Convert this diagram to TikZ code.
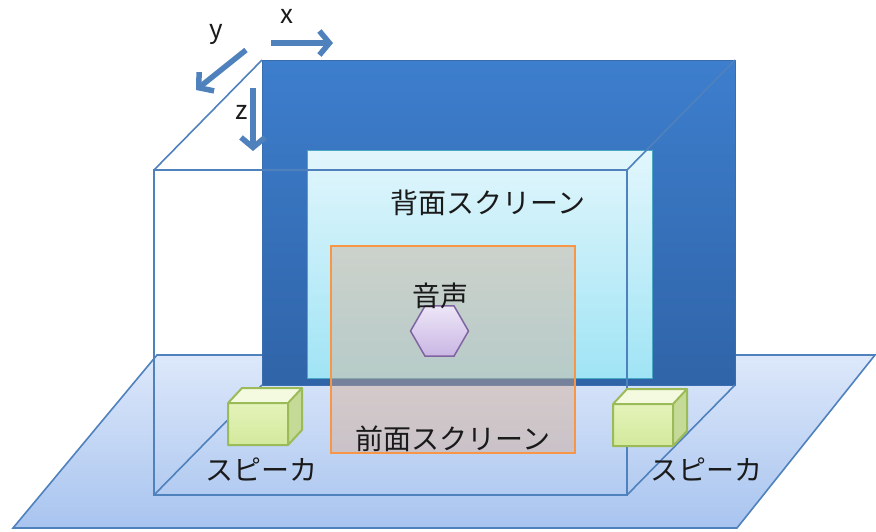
\documentclass[tikz,border=0pt]{standalone}
\usepackage{fontspec}
\setmainfont{Noto Sans CJK JP}
\usetikzlibrary{arrows.meta,shapes.geometric}

\definecolor{edgeblue}{HTML}{4F81BD}
\definecolor{floortop}{HTML}{DDE8FA}
\definecolor{floorbot}{HTML}{A8C4EF}
\definecolor{walltop}{HTML}{3D7ECD}
\definecolor{wallbot}{HTML}{3064A8}
\definecolor{walledge}{HTML}{3A6DAE}
\definecolor{cyantop}{HTML}{E2F6FC}
\definecolor{cyanbot}{HTML}{A0E4F5}
\definecolor{cyanedge}{HTML}{4BA8C4}
\definecolor{frontfill}{RGB}{215,170,140}
\definecolor{frontedge}{HTML}{F79646}
\definecolor{hextop}{HTML}{EDE6F7}
\definecolor{hexbot}{HTML}{C9B6E4}
\definecolor{hexedge}{HTML}{8064A2}
\definecolor{spkfront}{HTML}{E4F3BA}
\definecolor{spkfrontb}{HTML}{D3E99C}
\definecolor{spktop}{HTML}{F4FADF}
\definecolor{spkside}{HTML}{C6DA98}
\definecolor{spkedge}{HTML}{9BBB59}
\definecolor{textcol}{HTML}{1A1A1A}

\begin{document}
\begin{tikzpicture}[x=1pt,y=-1pt,
  panel/.style={rectangle,inner sep=0pt,outer sep=0pt},
  wallbox/.style={panel,minimum width=473pt,minimum height=325pt,
    top color=walltop,bottom color=wallbot,draw=walledge,line width=1pt},
  backscreen/.style={panel,minimum width=345pt,minimum height=228pt,
    top color=cyantop,bottom color=cyanbot,draw=cyanedge,line width=1pt},
  frontscreen/.style={panel,minimum width=244pt,minimum height=207pt,
    fill=frontfill,fill opacity=0.42,draw=frontedge,draw opacity=1,line width=2pt},
  source/.style={regular polygon,regular polygon sides=6,minimum size=58pt,
    inner sep=0pt,top color=hextop,bottom color=hexbot,draw=hexedge,line width=1.5pt},
  frame/.style={draw=edgeblue,line width=1.6pt},
  axis/.style={draw=edgeblue,line width=5.5pt,
    -{Straight Barb[length=10pt,width=24pt]}},
  label/.style={text=textcol,inner sep=0pt,font=\fontsize{28}{30}\selectfont},
  axislabel/.style={text=textcol,inner sep=0pt,font=\fontsize{26}{28}\selectfont},
  spk/.style={draw=spkedge,line width=2pt,line join=round}
]
\useasboundingbox (0,0) rectangle (876,531);

% floor
\coordinate (fl1) at (13,528);
\coordinate (fl2) at (157,355);
\coordinate (fl3) at (875,355);
\coordinate (fl4) at (737,528);
\path[top color=floortop,bottom color=floorbot] (fl1) -- (fl2) -- (fl3) -- (fl4) -- cycle;
\draw[frame] (fl1) -- (fl2) -- (fl3) -- (fl4) -- cycle;

% back wall, back screen, front screen
\node[wallbox] (wall) at (498.5,222.5) {};
\node[backscreen] (back) at (479.5,264) {};
\node[frontscreen] (front) at (453,349.5) {};

% sound source
\node[source] (src) at (439.5,331) {};

% room frame
\coordinate (ftl) at (154,170);
\coordinate (ftr) at (627,170);
\coordinate (fbr) at (627,495);
\coordinate (fbl) at (154,495);
\draw[frame] (ftl) -- (ftr) -- (fbr) -- (fbl) -- cycle;
\draw[frame] (ftl) -- (wall.north west);
\draw[frame] (ftr) -- (wall.north east);
\draw[frame] (fbl) -- (wall.south west);
\draw[frame] (fbr) -- (wall.south east);

% speakers
\foreach \n/\px/\py in {spkL/228/403, spkR/613/404}{
  \coordinate (\n-a) at (\px,\py);
  \coordinate (\n-b) at (\px+60,\py);
  \coordinate (\n-c) at (\px+60,\py+42);
  \coordinate (\n-d) at (\px,\py+42);
  \coordinate (\n-e) at (\px+14,\py-15);
  \coordinate (\n-f) at (\px+74,\py-15);
  \coordinate (\n-g) at (\px+74,\py+27);
  \path[top color=spkfront,bottom color=spkfrontb] (\n-a) -- (\n-b) -- (\n-c) -- (\n-d) -- cycle;
  \fill[spktop] (\n-a) -- (\n-e) -- (\n-f) -- (\n-b) -- cycle;
  \fill[spkside] (\n-b) -- (\n-f) -- (\n-g) -- (\n-c) -- cycle;
  \draw[spk] (\n-a) -- (\n-b) -- (\n-c) -- (\n-d) -- cycle
    (\n-a) -- (\n-e) -- (\n-f) -- (\n-b) (\n-f) -- (\n-g) -- (\n-c);
}

% labels
\node[label] (tback) at (488,203) {背面スクリーン};
\node[label] (tsrc) at (440,296) {音声};
\node[label] (tfront) at (453,439) {前面スクリーン};
\node[label] (tspkL) at (261,470) {スピーカ};
\node[label] (tspkR) at (706,470) {スピーカ};

% axes
\coordinate (xs) at (271,43);
\coordinate (xe) at (333,43);
\coordinate (ys) at (246,50);
\coordinate (ye) at (196,90);
\coordinate (zs) at (253,88);
\coordinate (ze) at (253,151);
\draw[axis] (xs) -- (xe);
\draw[axis] (ys) -- (ye);
\draw[axis] (zs) -- (ze);
\node[axislabel] (lx) at (287,16) {x};
\node[axislabel] (ly) at (216,34) {y};
\node[axislabel] (lz) at (242,112) {z};
\end{tikzpicture}
\end{document}
